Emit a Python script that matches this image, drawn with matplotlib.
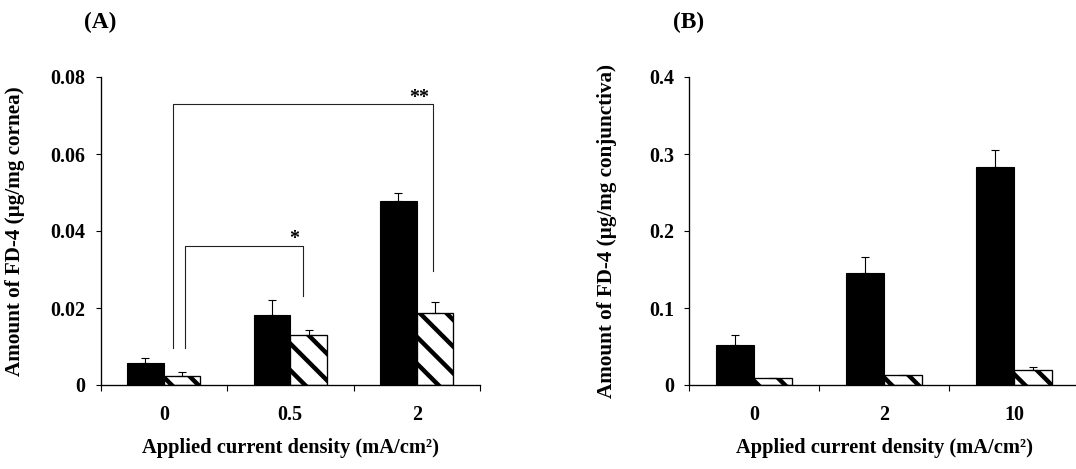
import matplotlib
matplotlib.use('Agg')
import matplotlib.pyplot as plt
import numpy as np

# panel A: cornea
cat_a = ['0', '0.5', '2']
a_black = [0.0058, 0.0181, 0.0477]
a_black_err = [0.0013, 0.0039, 0.0023]
a_hatch = [0.0023, 0.0131, 0.0186]
a_hatch_err = [0.0012, 0.0012, 0.0029]
yticks_a = [0, 0.02, 0.04, 0.06, 0.08]
ylabels_a = ['0', '0.02', '0.04', '0.06', '0.08']

# panel B: conjunctiva
cat_b = ['0', '2', '10']
b_black = [0.0525, 0.1457, 0.2828]
b_black_err = [0.0125, 0.021, 0.023]
b_hatch = [0.0085, 0.013, 0.019]
b_hatch_err = [0.0005, 0.0005, 0.004]
yticks_b = [0, 0.1, 0.2, 0.3, 0.4]
ylabels_b = ['0', '0.1', '0.2', '0.3', '0.4']

# significance brackets in panel A: (x left, y left end, x right, y right end, y top, label, label x)
brackets_a = [
    (0.076, 0.0095, 2.129, 0.0296, 0.0730, '**', 2.02),
    (0.171, 0.0095, 1.104, 0.0231, 0.0362, '*', 1.03),
]

plt.rcParams['font.family'] = ['Liberation Serif', 'DejaVu Serif']
plt.rcParams['font.weight'] = 'bold'
plt.rcParams['hatch.linewidth'] = 4.0

DPI = 80
fig = plt.figure(figsize=(1076 / DPI, 469 / DPI), dpi=DPI)
W, H = 1076.0, 469.0

BW = 0.29
TICK_FS = 18
XLABEL_FS = 18.5
YLABEL_FS = 19


def draw_panel(ax, cats, black, black_err, hatch, hatch_err, yticks, ylabels, ylabel, ylabel_x, tag):
    x = np.arange(len(cats))
    ax.bar(x - BW / 2, black, BW, color='black', edgecolor='black', linewidth=1.0, zorder=2)
    ax.bar(x + BW / 2, hatch, BW, color='white', edgecolor='black', hatch='\\',
           linewidth=1.2, zorder=2)
    ax.errorbar(x - BW / 2, black, yerr=[np.zeros(len(x)), black_err], fmt='none',
                ecolor='black', elinewidth=1.0, capsize=4, capthick=1.0, zorder=3)
    ax.errorbar(x + BW / 2, hatch, yerr=[np.zeros(len(x)), hatch_err], fmt='none',
                ecolor='black', elinewidth=1.0, capsize=4, capthick=1.0, zorder=3)

    ax.set_xlim(-0.5, len(cats) - 0.5)
    ax.set_ylim(yticks[0], yticks[-1])
    ax.set_yticks(yticks)
    ax.set_yticklabels(ylabels, fontsize=TICK_FS, fontweight='bold')
    ax.set_xticks(x)
    ax.set_xticklabels(cats, fontsize=TICK_FS, fontweight='bold')
    ax.set_xticks(np.arange(-0.5, len(cats)), minor=True)
    ax.tick_params(axis='x', which='major', length=0, pad=18)
    ax.tick_params(axis='x', which='minor', length=5, width=1.0, direction='out')
    ax.tick_params(axis='y', length=4.5, width=1.0, direction='out', pad=9)

    for s in ['top', 'right']:
        ax.spines[s].set_visible(False)
    for s in ['left', 'bottom']:
        ax.spines[s].set_linewidth(1.2)
        ax.spines[s].set_color('black')

    ax.text(0.5, -0.203, 'Applied current density (mA/cm²)', transform=ax.transAxes,
            ha='center', va='center', fontsize=XLABEL_FS, fontweight='bold')
    ax.text(ylabel_x, 0.5, ylabel, transform=ax.transAxes, rotation=90,
            ha='center', va='center', fontsize=YLABEL_FS, fontweight='bold')
    ax.text(0.0, 1.178, tag, transform=ax.transAxes, ha='center', va='center',
            fontsize=21, fontweight='bold')


ax_a = fig.add_axes([100.5 / W, 1 - 385 / H, 379.5 / W, 308 / H])
draw_panel(ax_a, cat_a, a_black, a_black_err, a_hatch, a_hatch_err, yticks_a, ylabels_a,
           'Amount of FD-4 (µg/mg cornea)', -0.225, '(A)')

for x1, y1, x2, y2, top, star, sx in brackets_a:
    ax_a.plot([x1, x1, x2, x2], [y1, top, top, y2], color='#222222', lw=1.0, zorder=4)
    ax_a.text(sx, top + 0.0003, star, ha='center', va='baseline', fontsize=18, fontweight='bold')

ax_b = fig.add_axes([689 / W, 1 - 385 / H, 390 / W, 308 / H])
draw_panel(ax_b, cat_b, b_black, b_black_err, b_hatch, b_hatch_err, yticks_b, ylabels_b,
           'Amount of FD-4 (µg/mg conjunctiva)', -0.21, '(B)')

plt.savefig('out.png', dpi=DPI)
plt.close()
